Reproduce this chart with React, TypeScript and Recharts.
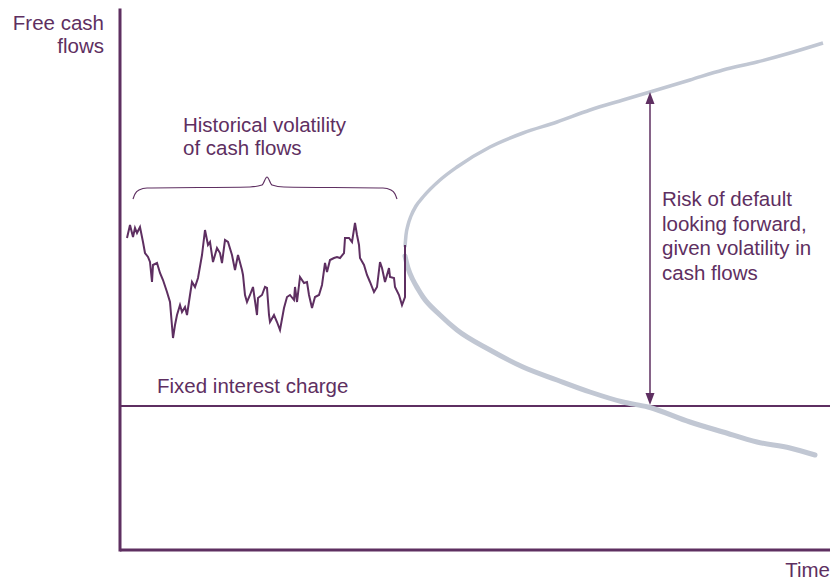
import React from "react";
import {
  ComposedChart,
  Line,
  Scatter,
  XAxis,
  YAxis,
  ReferenceDot,
} from "recharts";

const PURPLE = "#5e2f61";
const CONE = "#c1c7d3";
const FONT = "'Liberation Sans', Arial, sans-serif";

// historical free cash flows (time, value)
const historyTime = [
  7, 10, 13, 15, 17, 20, 23, 25, 28, 30, 32, 33, 37, 40, 43, 47, 50, 53, 55, 57,
  60, 62, 65, 67, 70, 72, 75, 78, 82, 85, 88, 90, 93, 97, 100, 102, 105, 108, 112,
  115, 118, 122, 123, 125, 127, 130, 133, 137, 138, 142, 145, 147, 149, 150, 154,
  157, 160, 164, 167, 170, 174, 175, 177, 180, 184, 187, 189, 192, 195, 199, 202,
  205, 207, 210, 214, 217, 220, 224, 225, 229, 232, 235, 237, 239, 240, 244, 247,
  250, 254, 257, 260, 262, 265, 269, 270, 274, 275, 279, 282, 285, 285,
];
const historyValue = [
  312, 325, 313, 322, 317, 323, 308, 297, 293, 288, 268, 285, 287, 277, 270, 258,
  248, 212, 225, 235, 245, 238, 243, 235, 255, 268, 263, 272, 295, 320, 305, 308,
  288, 302, 297, 287, 310, 308, 295, 280, 295, 280, 275, 255, 248, 255, 263, 235,
  252, 255, 263, 262, 235, 228, 235, 228, 220, 242, 253, 255, 250, 263, 248, 273,
  267, 268, 255, 242, 253, 255, 265, 287, 278, 290, 292, 293, 292, 297, 312, 312,
  308, 327, 315, 305, 292, 285, 275, 268, 258, 263, 288, 282, 268, 282, 273, 272,
  263, 255, 245, 253, 305,
];

// forecast cone, upper and lower bounds
const upperTime = [285, 286, 288, 291, 296, 303, 320, 337, 370, 403, 437, 470, 503, 530, 570, 603, 637, 670, 703];
const upperValue = [303, 315, 325, 334, 344, 353, 370, 383, 403, 417, 428, 440, 450, 458, 470, 480, 488, 497, 507];
const lowerTime = [285, 288, 293, 298, 303, 320, 337, 370, 403, 437, 470, 503, 528, 570, 603, 637, 670, 695];
const lowerValue = [294, 282, 270, 261, 253, 235, 220, 200, 183, 170, 158, 148, 143, 128, 118, 108, 102, 95];

const interestTime = [0, 710];
const interestValue = [144, 144];

// axes
const yAxisTime = [0, 0];
const yAxisValue = [540, 0];
const xAxisTime = [0, 710];
const xAxisValue = [0, 0];

// bracket over the historical period
const braceTime = [13, 15, 19, 27, 130, 142, 147, 152, 164, 263, 271, 275, 277];
const braceValue = [351, 356, 360, 362, 363, 365, 373, 365, 363, 362, 360, 356, 351];

// risk-of-default arrow
const arrowTime = 530;
const arrowTop = 458;
const arrowBottom = 145;

const zip = (xs: number[], ys: number[]) => xs.map((x, i) => ({ x, y: ys[i] }));

const history = zip(historyTime, historyValue);
const upper = zip(upperTime, upperValue);
const lower = zip(lowerTime, lowerValue);
const interest = zip(interestTime, interestValue);
const yAxisLine = zip(yAxisTime, yAxisValue);
const xAxisLine = zip(xAxisTime, xAxisValue);
const brace = zip(braceTime, braceValue);
const arrowLine = [
  { x: arrowTime, y: arrowTop - 10 },
  { x: arrowTime, y: arrowBottom + 10 },
];

const textLabel =
  (lines: string[], anchor: "start" | "end" = "start", lineHeight = 23) =>
  (p: any) =>
    (
      <text
        x={p.cx}
        y={p.cy}
        fill={PURPLE}
        fontFamily={FONT}
        fontSize={20.5}
        textAnchor={anchor}
      >
        {lines.map((l, i) => (
          <tspan key={i} x={p.cx} dy={i === 0 ? 0 : lineHeight}>
            {l}
          </tspan>
        ))}
      </text>
    );

const ArrowHead = (up: boolean) => (p: any) => {
  const { cx, cy } = p;
  const d = up ? 12 : -12;
  return (
    <path
      d={`M${cx},${cy} L${cx - 4.5},${cy + d} L${cx + 4.5},${cy + d} Z`}
      fill={PURPLE}
    />
  );
};

export default function App() {
  return (
    <div style={{ position: "absolute", left: 0, top: 0, background: "#fff" }}>
      <ComposedChart
        width={831}
        height={581}
        margin={{ top: 10, right: 1, bottom: 31, left: 120 }}
      >
        <XAxis dataKey="x" type="number" domain={[0, 710]} hide />
        <YAxis dataKey="y" type="number" domain={[0, 540]} hide />
        <Line
          data={interest}
          dataKey="y"
          type="linear"
          stroke={PURPLE}
          strokeWidth={2}
          dot={false}
          isAnimationActive={false}
        />
        <Line
          data={yAxisLine}
          dataKey="y"
          type="linear"
          stroke={PURPLE}
          strokeWidth={3}
          strokeLinecap="square"
          dot={false}
          isAnimationActive={false}
        />
        <Line
          data={xAxisLine}
          dataKey="y"
          type="linear"
          stroke={PURPLE}
          strokeWidth={3}
          dot={false}
          isAnimationActive={false}
        />
        <Line
          data={upper}
          dataKey="y"
          type="monotone"
          stroke={CONE}
          strokeWidth={3.5}
          dot={false}
          isAnimationActive={false}
        />
        <Line
          data={lower}
          dataKey="y"
          type="monotone"
          stroke={CONE}
          strokeWidth={5}
          strokeLinecap="round"
          dot={false}
          isAnimationActive={false}
        />
        <Line
          data={history}
          dataKey="y"
          type="linear"
          stroke={PURPLE}
          strokeWidth={2}
          dot={false}
          isAnimationActive={false}
        />
        <Line
          data={brace}
          dataKey="y"
          type="monotone"
          stroke={PURPLE}
          strokeWidth={1.2}
          dot={false}
          isAnimationActive={false}
        />
        <Line
          data={arrowLine}
          dataKey="y"
          type="linear"
          stroke={PURPLE}
          strokeWidth={1.5}
          dot={false}
          isAnimationActive={false}
        />
        <Scatter
          data={[{ x: arrowTime, y: arrowTop }]}
          dataKey="y"
          shape={ArrowHead(true)}
          isAnimationActive={false}
        />
        <Scatter
          data={[{ x: arrowTime, y: arrowBottom }]}
          dataKey="y"
          shape={ArrowHead(false)}
          isAnimationActive={false}
        />
        <ReferenceDot
          x={-16}
          y={520}
          ifOverflow="visible"
          shape={textLabel(["Free cash", "flows"], "end")}
        />
        <ReferenceDot
          x={63}
          y={418}
          ifOverflow="visible"
          shape={textLabel(["Historical volatility", "of cash flows"])}
        />
        <ReferenceDot
          x={542}
          y={344}
          ifOverflow="visible"
          shape={textLabel(
            ["Risk of default", "looking forward,", "given volatility in", "cash flows"],
            "start",
            24.7
          )}
        />
        <ReferenceDot
          x={37}
          y={157}
          ifOverflow="visible"
          shape={textLabel(["Fixed interest charge"])}
        />
        <ReferenceDot
          x={710}
          y={-27}
          ifOverflow="visible"
          shape={textLabel(["Time"], "end")}
        />
      </ComposedChart>
    </div>
  );
}
